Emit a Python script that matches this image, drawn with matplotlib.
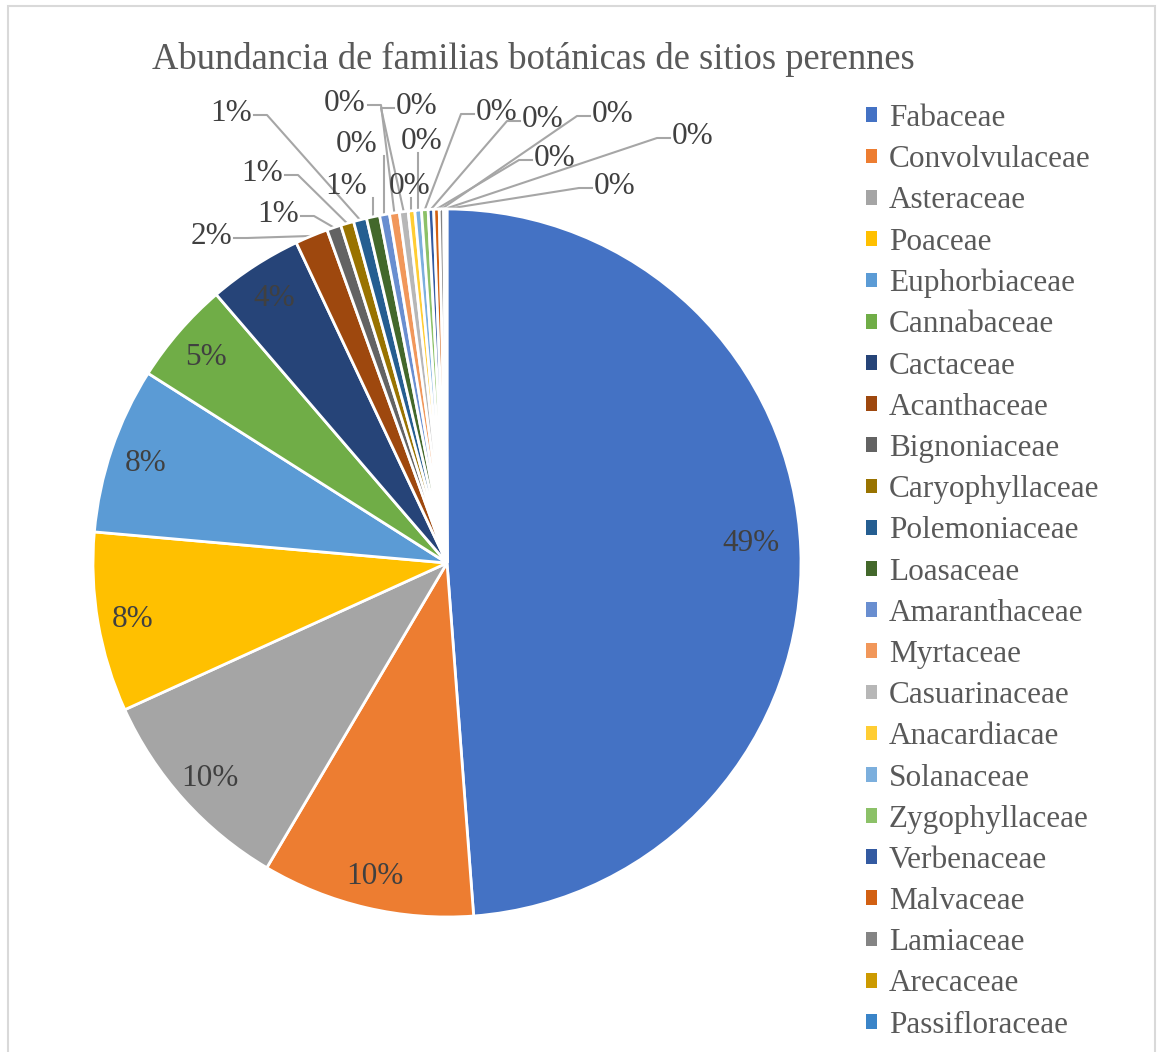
import matplotlib.pyplot as plt
from matplotlib.patches import Patch, Rectangle
import numpy as np

families = ["Fabaceae", "Convolvulaceae", "Asteraceae", "Poaceae", "Euphorbiaceae",
            "Cannabaceae", "Cactaceae", "Acanthaceae", "Bignoniaceae", "Caryophyllaceae",
            "Polemoniaceae", "Loasaceae", "Amaranthaceae", "Myrtaceae", "Casuarinaceae",
            "Anacardiacae", "Solanaceae", "Zygophyllaceae", "Verbenaceae", "Malvaceae",
            "Lamiaceae", "Arecaceae", "Passifloraceae"]
abundance = [48.8, 9.7, 9.7, 8.2, 7.6, 4.7, 4.3, 1.5, 0.65, 0.6, 0.6, 0.6,
             0.45, 0.45, 0.4, 0.3, 0.3, 0.3, 0.25, 0.25, 0.2, 0.1, 0.05]
colors = ["#4472C4", "#ED7D31", "#A5A5A5", "#FFC000", "#5B9BD5", "#70AD47",
          "#264478", "#9E480E", "#636363", "#997300", "#255E91", "#43682B",
          "#698ED0", "#F1975A", "#B7B7B7", "#FFCD33", "#7CAFDD", "#8CC168",
          "#335AA1", "#D26012", "#848484", "#CC9A00", "#3A84C8"]

W, H = 1160, 1052
CX, CY, R = 447, 563, 354          # pie centre / radius in pixels
TXT = "#404040"
FONT = "Liberation Serif"
FS = 22.5

# outside label layout (pixel centre of text, side the leader leaves from)
small_layout = {
    7: (211, 233, "r"), 8: (278, 211, "r"), 9: (262, 170, "r"), 10: (231, 110, "r"),
    11: (346, 183, "b"), 12: (357, 141, "b"), 13: (345, 100, "r"), 14: (417, 103, "l"),
    15: (410, 183, "b"), 16: (422, 138, "b"), 17: (497, 109, "l"), 18: (543, 116, "l"),
    19: (555, 155, "l"), 20: (613, 111, "l"), 21: (693, 133, "l"), 22: (615, 183, "l"),
}


def to_data(x, y):
    return (x - CX) / R, (CY - y) / R


fig = plt.figure(figsize=(W / 100, H / 100), dpi=100)
ax = fig.add_axes([(CX - R) / W, (H - CY - R) / H, 2 * R / W, 2 * R / H])

wedges, _ = ax.pie(abundance, colors=colors, startangle=90, counterclock=False,
                   wedgeprops=dict(edgecolor="white", linewidth=2))
ax.set_xlim(-1, 1)
ax.set_ylim(-1, 1)

total = sum(abundance)
for i, w in enumerate(wedges):
    label = f"{abundance[i] / total * 100:.0f}%"
    mid = np.deg2rad((w.theta1 + w.theta2) / 2)
    ax_, ay_ = np.cos(mid), np.sin(mid)
    if i < 7:
        r = 0.86 if i == 0 else 0.9
        ly = r * ay_ + (0.022 if i == 0 else -0.008)
        ax.text(r * ax_, ly, label, ha="center", va="center",
                fontsize=FS, color=TXT, family=FONT)
        continue
    tx, ty, side = small_layout[i]
    ax.text(*to_data(tx, ty + 3), label, ha="center", va="center",
            fontsize=FS, color=TXT, family=FONT, clip_on=False)
    if side == "r":
        pts = [(tx + 23, ty + 5), (tx + 36, ty + 5)]
    elif side == "l":
        pts = [(tx - 23, ty + 5), (tx - 36, ty + 5)]
    else:
        pts = [(CX + ax_ * R, ty + 15)]
    xs = [to_data(*p)[0] for p in pts] + [ax_ * 1.0]
    ys = [to_data(*p)[1] for p in pts] + [ay_ * 1.0]
    ax.plot(xs, ys, color="#A6A6A6", lw=1.5, clip_on=False, zorder=0.5)

fig.text(533 / W, 1 - 59 / H, "Abundancia de familias botánicas de sitios perennes",
         ha="center", va="center", fontsize=26.3, color="#595959", family=FONT)

handles = [Patch(facecolor=c, edgecolor="none") for c in colors]
fig.legend(handles, families, loc="upper left", bbox_to_anchor=(866 / W, 1 - 104 / H),
           frameon=False, handlelength=0.35, handleheight=0.35,
           handletextpad=0.38, labelspacing=0.39, borderpad=0, borderaxespad=0,
           prop=dict(family=FONT, size=FS), labelcolor="#595959")

fig.add_artist(Rectangle((8 / W, -0.01), (1155 - 8) / W, (H - 6) / H + 0.01,
                         transform=fig.transFigure, fill=False,
                         edgecolor="#D9D9D9", linewidth=1.5))

fig.savefig("out.png", dpi=100)
